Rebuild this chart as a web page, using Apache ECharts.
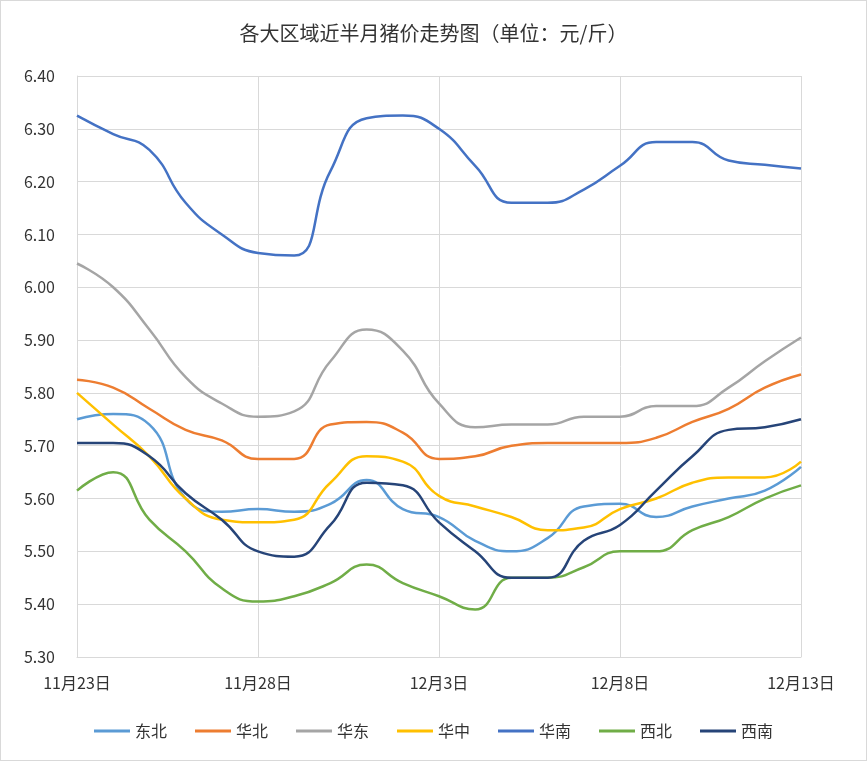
<!DOCTYPE html>
<html>
<head>
<meta charset="utf-8">
<script src="https://cdn.jsdelivr.net/npm/echarts@6/dist/echarts.min.js"></script>
<style>html,body{margin:0;padding:0;background:#fff}</style>
</head>
<body>
<div id="chart" style="width:865px;height:759px;border:1px solid #d9d9d9;"></div>
<script>
const days = ['11月23日','11月24日','11月25日','11月26日','11月27日','11月28日','11月29日','11月30日','12月1日','12月2日','12月3日',
  '12月4日','12月5日','12月6日','12月7日','12月8日','12月9日','12月10日','12月11日','12月12日','12月13日'];
const dongbei = [5.75,5.76,5.74,5.60,5.575,5.58,5.575,5.59,5.635,5.58,5.565,5.52,5.50,5.525,5.585,5.59,5.565,5.585,5.60,5.615,5.66];
const huabei = [5.825,5.81,5.77,5.73,5.71,5.675,5.675,5.74,5.745,5.725,5.675,5.68,5.70,5.705,5.705,5.705,5.715,5.745,5.77,5.81,5.835];
const huadong = [6.045,6.00,5.92,5.83,5.78,5.755,5.765,5.86,5.92,5.88,5.78,5.735,5.74,5.74,5.755,5.755,5.775,5.775,5.81,5.86,5.905];
const huazhong = [5.80,5.74,5.68,5.60,5.56,5.555,5.56,5.63,5.68,5.67,5.605,5.585,5.565,5.54,5.545,5.58,5.60,5.63,5.64,5.64,5.67];
const huanan = [6.325,6.29,6.26,6.16,6.10,6.065,6.06,6.22,6.32,6.325,6.30,6.23,6.16,6.16,6.185,6.23,6.275,6.275,6.24,6.232,6.225];
const xibei = [5.615,5.65,5.56,5.50,5.43,5.405,5.415,5.44,5.475,5.44,5.415,5.39,5.45,5.45,5.47,5.50,5.50,5.54,5.565,5.60,5.625];
const xinan = [5.705,5.705,5.68,5.61,5.56,5.50,5.49,5.55,5.63,5.625,5.555,5.50,5.45,5.45,5.52,5.55,5.615,5.68,5.73,5.735,5.75];

const chart = echarts.init(document.getElementById('chart'));
const font = '"Noto Sans CJK SC", sans-serif';
function s(name, data, color) {
  return { name, type: 'line', data, smooth: 0.5, symbol: 'none',
    lineStyle: { width: 2.5, color }, itemStyle: { color } };
}
chart.setOption({
  textStyle: { fontFamily: font },
  title: { text: '各大区域近半月猪价走势图（单位：元/斤）', left: 'center', top: 17,
    textStyle: { fontSize: 20, fontWeight: 'normal', color: '#333', fontFamily: font } },
  grid: { left: 76, right: 65, top: 75, bottom: 103 },
  legend: { bottom: 16, itemWidth: 36, itemHeight: 3, itemGap: 28, icon: 'rect',
    textStyle: { fontSize: 16, color: '#333' } },
  xAxis: { type: 'category', data: days, boundaryGap: false,
    axisLine: { lineStyle: { color: '#d9d9d9' } }, axisTick: { show: false },
    axisLabel: { interval: 4, color: '#333', fontSize: 16, margin: 18 },
    splitLine: { show: true, interval: 4, lineStyle: { color: '#d9d9d9' } } },
  yAxis: { type: 'value', min: 5.3, max: 6.4, interval: 0.1,
    axisLine: { show: true, lineStyle: { color: '#d9d9d9' } },
    axisLabel: { formatter: v => v.toFixed(2), color: '#333', fontSize: 16, margin: 22 },
    splitLine: { lineStyle: { color: '#d9d9d9' } } },
  series: [
    s('东北', dongbei, '#5B9BD5'),
    s('华北', huabei, '#ED7D31'),
    s('华东', huadong, '#A5A5A5'),
    s('华中', huazhong, '#FFC000'),
    s('华南', huanan, '#4472C4'),
    s('西北', xibei, '#70AD47'),
    s('西南', xinan, '#264478')
  ]
});
</script>
</body>
</html>
